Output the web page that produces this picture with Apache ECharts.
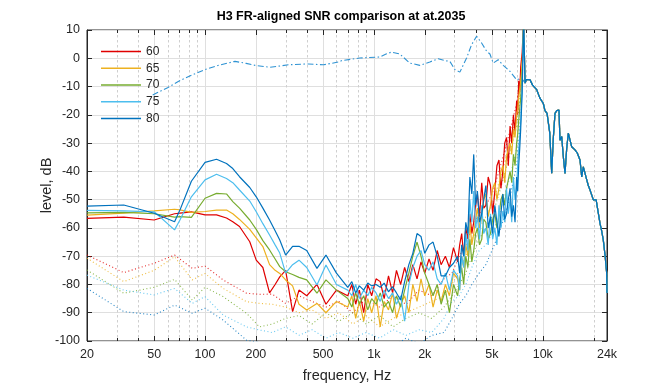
<!DOCTYPE html>
<html><head><meta charset="utf-8">
<script src="https://cdn.jsdelivr.net/npm/echarts@6/dist/echarts.min.js"></script>
<style>html,body{margin:0;padding:0;background:#fff}#c{width:672px;height:384px}</style>
</head><body><div id="c"></div>
<script>
// ---------- data ----------
const levels = ['60', '65', '70', '75', '80'];

// solid curves, low-frequency part
const fLow = [20, 33, 50, 66, 71, 83, 100, 117, 134, 146, 160, 184, 201, 220, 241, 260, 277, 300, 330, 360, 400, 460, 520, 600];
const s60Low = [-56.6, -56.2, -57.2, -55.0, -54.8, -54.3, -55.4, -55.4, -56.5, -57.8, -59.5, -64.9, -71.4, -74.0, -83.0, -80.0, -77.3, -75.0, -89.6, -82.0, -84.0, -80.0, -87.0, -82.0];
const s65Low = [-55.5, -54.8, -54.0, -53.4, -53.6, -54.5, -54.2, -53.7, -53.7, -55.0, -57.0, -60.5, -63.5, -66.6, -73.0, -75.0, -76.1, -78.4, -80.5, -87.0, -89.0, -86.7, -90.0, -86.0];
const s70Low = [-54.7, -54.5, -55.0, -56.2, -56.0, -56.3, -49.5, -47.8, -48.0, -50.7, -53.0, -57.2, -60.5, -64.5, -67.8, -71.0, -73.7, -75.5, -76.5, -77.5, -78.4, -83.1, -78.4, -82.0];
const s75Low = [-53.8, -54.0, -54.3, -60.7, -57.2, -49.0, -43.0, -41.0, -42.5, -44.0, -46.6, -50.5, -54.3, -58.5, -62.5, -66.0, -68.9, -76.0, -73.0, -71.4, -74.0, -80.2, -73.1, -80.0];
const s80Low = [-52.3, -51.9, -54.8, -57.8, -53.7, -43.5, -36.8, -35.7, -37.2, -39.0, -41.9, -45.7, -49.0, -53.0, -57.2, -61.0, -64.3, -69.6, -66.5, -66.5, -68.0, -74.3, -69.6, -76.0];

// solid curves, noisy mid part A (700 Hz .. 3 kHz)
const fMidA = [700, 740, 780, 820, 870, 920, 970, 1030, 1090, 1150, 1220, 1290, 1360, 1440, 1520, 1610, 1700, 1800, 1900, 2000, 2120, 2240, 2370, 2500, 2650, 2800, 2960];
const s60MidA = [-84, -80, -87, -82, -90, -80, -84, -78, -79, -85, -77, -83, -75, -80, -74, -79, -73, -78, -72, -76, -71, -75, -68, -73, -70, -74, -67];
const s65MidA = [-88, -84, -92, -86, -93, -85, -90, -84, -95, -86, -89, -83, -92, -87, -84, -90, -80, -86, -78, -84, -80, -88, -82, -86, -80, -84, -76];
const s70MidA = [-85, -88, -83, -87, -84, -89, -85, -87, -83, -88, -86, -90, -84, -88, -82, -76, -70, -65, -70, -76, -80, -84, -80, -87, -82, -90, -80];
const s75MidA = [-82, -84, -80, -85, -82, -84, -81, -83, -86, -82, -85, -83, -87, -84, -93, -80, -74, -70, -68, -73, -75, -72, -78, -80, -76, -82, -75];
const s80MidA = [-81, -79, -83, -80.5, -82, -79.5, -80.5, -80, -81, -79.5, -82.6, -80.8, -83, -85.5, -79, -73, -69, -62, -63, -69, -66, -65, -70, -77, -77, -74, -72.5];

// solid curves, noisy mid part B (3 kHz .. resonance spike)
const fMidB = [3130, 3220, 3310, 3400, 3500, 3600, 3700, 3800, 3900, 4000, 4100, 4220, 4350, 4470, 4600, 4750, 4900, 5050, 5200, 5350, 5500, 5650, 5800, 5950, 6100, 6250, 6400, 6550, 6700, 6850, 7000, 7100, 7200, 7300, 7400, 7550, 7700];
const s60MidB = [-72, -66, -62, -70, -60, -64, -55, -62, -58, -52, -48, -56, -44, -53, -52, -42, -45, -55, -47, -38, -36, -46, -40, -30, -28, -38, -24, -30, -20, -26, -15, -20, -8, -12, -3, 2, 14];
const s65MidB = [-78, -82, -70, -74, -66, -70, -58, -66, -62, -57, -53, -60, -56, -50, -48, -56, -52, -46, -44, -50, -46, -40, -38, -44, -35, -32, -30, -34, -25, -28, -20, -18, -14, -11, -8, -2, 14];
const s70MidB = [-84, -78, -74, -80, -70, -74, -64, -72, -68, -62, -60, -66, -64, -57, -58, -64, -62, -57, -55, -60, -56, -50, -48, -52, -46, -43, -40, -44, -34, -38, -30, -27, -22, -18, -14, -5, 14];
const s75MidB = [-77, -82, -70, -74, -62, -68, -50, -58, -47, -60, -56, -64, -52, -62, -60, -66, -55, -64, -60, -66, -52, -60, -54, -58, -46, -55, -50, -58, -42, -50, -45, -38, -32, -28, -22, -10, 14];
const s80MidB = [-70, -76, -66, -70, -58, -62, -42, -48, -34, -52, -47, -58, -55, -50, -45, -60, -56, -62, -52, -58, -63, -55, -48, -57, -55, -50, -46, -56, -52, -58, -42, -47, -38, -32, -25, -12, 14];

// high-frequency tail shared by all curves (they merge with the FR)
const fHigh = [7850, 8000, 8400, 8700, 9200, 9600, 10070, 10300, 10600, 11000, 11290, 11550, 11810, 12100, 12470, 12640, 12940, 13240, 13540, 13850, 14160, 14490, 14830, 15510, 16000, 16610, 17000, 17380, 18210, 18600, 19040, 19920, 20700, 21320, 21820, 22300, 22820, 23400, 23900, 24000];
const tailLevel = [-8.8, -7.5, -7.6, -9.5, -11.1, -14, -16, -18.5, -19.5, -26.5, -40.7, -28, -19.5, -18.5, -18.3, -29, -27.7, -35, -40.7, -32, -26.5, -26, -31.3, -32.4, -33.5, -36, -42, -38.4, -43, -45, -46.6, -50.1, -50.1, -54.8, -58.4, -61, -64.3, -70, -76, -83];

// dotted curves
const fDot = [20, 33, 50, 66, 84, 100, 128, 176, 210, 250, 300, 360, 430, 520, 620, 750, 900, 1080, 1300, 1550, 1850, 2200, 2600, 2900, 3200, 3500, 3800, 4200, 4600, 5000, 5500, 6000, 6500, 7000, 7400];
const d60 = [-69.6, -75.8, -72.5, -69.6, -74.3, -73.5, -78.4, -83.1, -83.5, -83.4, -86.7, -84, -86, -88, -86, -90, -85, -88, -84, -87, -82, -84, -78, -76, -70, -66, -60, -55, -52, -48, -40, -32, -24, -16, -6];
const d65 = [-70.7, -79, -75, -70.2, -78.4, -76.1, -81.4, -86.1, -86.7, -87, -88, -90, -89, -92, -90, -94, -91, -95, -92, -90, -88, -86, -84, -80, -75, -70, -64, -60, -56, -52, -44, -36, -28, -20, -9];
const d70 = [-74.9, -83.1, -81, -78.2, -85.5, -81, -84.3, -90.2, -95, -94, -92, -91, -94, -90, -93, -90, -94, -91, -95, -92, -90, -92, -88, -84, -80, -76, -70, -64, -60, -56, -48, -40, -32, -24, -12];
const d75 = [-76.7, -82, -83.7, -81.4, -86.7, -84.3, -90.8, -95, -96.1, -97, -95, -98, -96, -99, -97, -99, -97, -99, -96, -98, -96, -97, -92, -86, -84, -80, -74, -68, -66, -62, -56, -48, -40, -32, -18];
const d80 = [-81.4, -89.6, -90.8, -87.3, -90.2, -88.4, -92.6, -99.7, -100.5, -103, -102, -104, -103, -105, -104, -105, -103, -105, -102, -99, -101, -98, -97, -92, -87, -84, -80, -76, -73, -68, -62, -55, -47, -38, -22];

// frequency response (dash-dot)
const fFR = [49, 60, 69.4, 83, 99.8, 119.9, 150.3, 175, 197.6, 242.4, 311.6, 409.6, 502.6, 560, 627, 645, 824.8, 1084, 1180, 1272, 1424, 1632, 1870, 2144, 2402, 2632, 2818, 3016, 3228, 3538, 3788, 4056, 4342, 4648, 4864, 5086, 5446, 5832, 6390, 7002, 7496];
const frLevel = [-13, -10.4, -8.2, -6, -4, -2.5, -1.1, -1.8, -2.5, -3.2, -2.3, -2, -2.3, -1.8, -1.2, -0.8, 0.1, 0.45, 1.5, 2.2, 1.5, -1.7, -2.5, -1.3, -0.15, -0.85, -1.1, -4, -4.9, 0.1, 4.8, 7.8, 5.4, 2.5, 1.5, -1.7, -0.5, -2.5, -4.6, -7.6, -7];

// axis ticks
const majorF = [20, 50, 100, 200, 500, 1000, 2000, 5000, 10000, 24000];
const majorLab = ['20', '50', '100', '200', '500', '1k', '2k', '5k', '10k', '24k'];
const minorF = [30, 40, 60, 70, 80, 90, 300, 400, 600, 700, 800, 900, 3000, 4000, 6000, 7000, 8000, 9000, 20000];

// ---------- chart ----------
const FONT = '"Liberation Sans", Arial, Helvetica, sans-serif';
const INK = '#262626';
const colors = { '60': '#E00000', '65': '#EDB120', '70': '#77AC30', '75': '#4DBEEE', '80': '#0072BD' };
const lowBy = { '60': s60Low, '65': s65Low, '70': s70Low, '75': s75Low, '80': s80Low };
const midABy = { '60': s60MidA, '65': s65MidA, '70': s70MidA, '75': s75MidA, '80': s80MidA };
const midBBy = { '60': s60MidB, '65': s65MidB, '70': s70MidB, '75': s75MidB, '80': s80MidB };
const dotBy = { '60': d60, '65': d65, '70': d70, '75': d75, '80': d80 };
const pairs = (fx, vy) => fx.map((f, i) => [f, vy[i]]);

const series = [];
levels.forEach(l => series.push({
  name: l + ' floor', type: 'line', data: pairs(fDot, dotBy[l]), symbol: 'none', silent: true,
  color: colors[l], lineStyle: { color: colors[l], width: 1.1, type: [1, 2.5], opacity: 0.85 }
}));
series.push({
  name: 'FR', type: 'line', data: pairs(fFR.concat(fHigh), frLevel.concat(tailLevel)), symbol: 'none', silent: true,
  color: '#2F93D3', lineStyle: { color: '#2F93D3', width: 1.1, type: [6, 2.5, 1.5, 2.5] }
});
levels.forEach(l => series.push({
  name: l, type: 'line',
  data: pairs(fLow.concat(fMidA, fMidB, fHigh), lowBy[l].concat(midABy[l], midBBy[l], tailLevel)),
  symbol: 'none', silent: true, color: colors[l], lineStyle: { color: colors[l], width: 1.2 }
}));

const chart = echarts.init(document.getElementById('c'), null, { renderer: 'canvas' });
chart.setOption({
  animation: false,
  backgroundColor: '#fff',
  title: {
    text: 'H3 FR-aligned SNR comparison at at.2035', left: 341, top: 10, textAlign: 'center', padding: 0,
    textStyle: { fontFamily: FONT, fontSize: 12.5, fontWeight: 'bold', color: '#000' }
  },
  legend: {
    data: levels, orient: 'vertical', left: 101, top: 44.5, padding: 0,
    icon: 'rect', itemWidth: 40, itemHeight: 1.5, itemGap: 2.75,
    textStyle: { fontFamily: FONT, fontSize: 12, color: INK, lineHeight: 14 }
  },
  grid: {
    left: 87, top: 30, width: 520, height: 311, show: true, borderColor: INK, borderWidth: 1,
    backgroundColor: 'transparent', containLabel: false, outerBoundsMode: 'none'
  },
  xAxis: [{
    type: 'log', logBase: 10, min: 20, max: 24000,
    axisLine: { show: false }, axisTick: { show: false }, axisLabel: { show: false }, splitLine: { show: false },
    name: 'frequency, Hz', nameLocation: 'middle', nameGap: 27, nameMoveOverlap: false,
    nameTextStyle: { fontFamily: FONT, fontSize: 14.5, color: INK }
  }],
  yAxis: [{
    type: 'value', min: -100, max: 10, interval: 10,
    axisLine: { show: true, lineStyle: { color: INK } },
    axisTick: { show: true, inside: true, length: 5, lineStyle: { color: INK } },
    axisLabel: { fontFamily: FONT, fontSize: 12.5, color: INK, margin: 7 },
    splitLine: { show: true, lineStyle: { color: '#DFDFDF', width: 1 } },
    name: 'level, dB', nameLocation: 'middle', nameGap: 33, nameRotate: 90, nameMoveOverlap: false,
    nameTextStyle: { fontFamily: FONT, fontSize: 14.5, color: INK }
  }, {
    type: 'value', position: 'right', min: -100, max: 10, interval: 10,
    axisLine: { show: true, lineStyle: { color: INK } },
    axisTick: { show: true, inside: true, length: 5, lineStyle: { color: INK } },
    axisLabel: { show: false }, splitLine: { show: false }
  }],
  series: series
});

// x-axis grid lines, ticks and labels placed through the log axis scale
const X = f => chart.convertToPixel({ xAxisIndex: 0 }, f);
const yT = chart.convertToPixel({ yAxisIndex: 0 }, 10);
const yB = chart.convertToPixel({ yAxisIndex: 0 }, -100);
const els = [];
minorF.forEach(f => {
  const x = Math.round(X(f)) + 0.5;
  els.push({ type: 'line', silent: true, z: 1, shape: { x1: x, y1: yT, x2: x, y2: yB }, style: { stroke: '#CFCFCF', lineWidth: 1, lineDash: [2.5, 2.5] } });
  els.push({ type: 'line', silent: true, z: 10, shape: { x1: x, y1: yB, x2: x, y2: yB - 3 }, style: { stroke: INK, lineWidth: 1 } });
  els.push({ type: 'line', silent: true, z: 10, shape: { x1: x, y1: yT, x2: x, y2: yT + 3 }, style: { stroke: INK, lineWidth: 1 } });
});
majorF.forEach((f, i) => {
  const x = Math.round(X(f)) + 0.5;
  if (i > 0 && i < majorF.length - 1) {
    els.push({ type: 'line', silent: true, z: 1, shape: { x1: x, y1: yT, x2: x, y2: yB }, style: { stroke: '#DFDFDF', lineWidth: 1 } });
  }
  els.push({ type: 'line', silent: true, z: 10, shape: { x1: x, y1: yB, x2: x, y2: yB - 5 }, style: { stroke: INK, lineWidth: 1 } });
  els.push({ type: 'line', silent: true, z: 10, shape: { x1: x, y1: yT, x2: x, y2: yT + 5 }, style: { stroke: INK, lineWidth: 1 } });
  els.push({ type: 'text', silent: true, z: 10, x: X(f), y: yB + 14,
    style: { text: majorLab[i], fontFamily: FONT, fontSize: 12.5, fill: INK, align: 'center', verticalAlign: 'middle' } });
});
chart.setOption({ graphic: { elements: els } });
</script>
</body></html>
